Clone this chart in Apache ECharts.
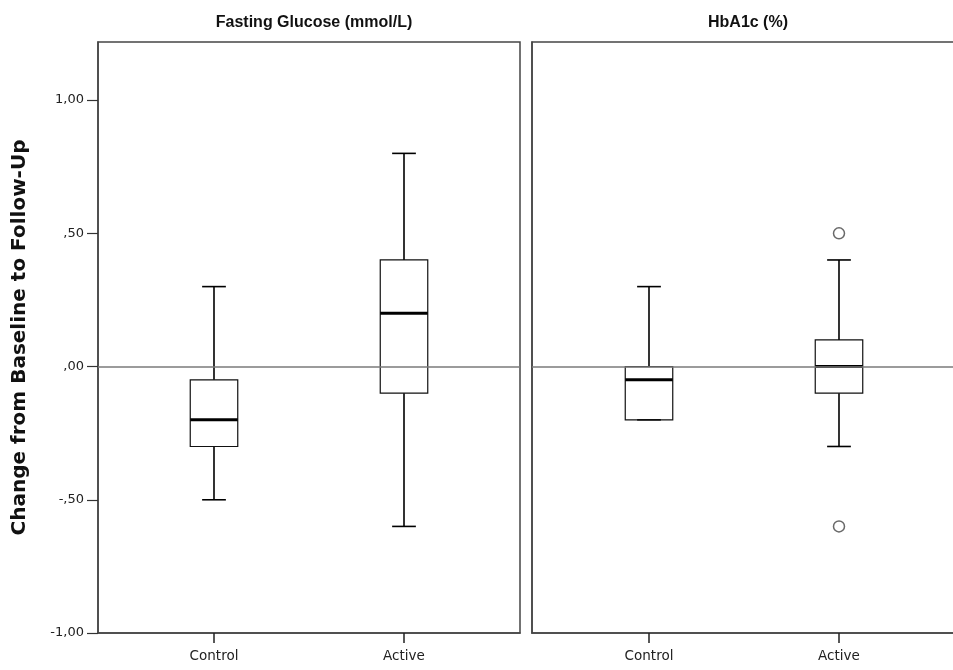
<!DOCTYPE html>
<html>
<head>
<meta charset="utf-8">
<script src="https://cdn.jsdelivr.net/npm/echarts@6/dist/echarts.min.js"></script>
<style>
  html, body { margin: 0; padding: 0; background: #fff; }
  #chart { width: 953px; height: 670px; }
</style>
</head>
<body>
<div id="chart"></div>
<script>
// Groups on the horizontal axis
const categories = ['Control', 'Active'];
// Panel titles
const panelTitles = ['Fasting Glucose (mmol/L)', 'HbA1c (%)'];
// Box summaries per group: [lower whisker, Q1, median, Q3, upper whisker]
const glucoseBoxes = [
  [-0.50, -0.30, -0.20, -0.05, 0.30],
  [-0.60, -0.10, 0.20, 0.40, 0.80]
];
const hba1cBoxes = [
  [-0.20, -0.20, -0.05, 0.00, 0.30],
  [-0.30, -0.10, 0.00, 0.10, 0.40]
];
// Outliers: [group index, value]
const glucoseOutliers = [];
const hba1cOutliers = [[1, 0.50], [1, -0.60]];
// Y tick values and their labels
const yTicks = [-1, -0.5, 0, 0.5, 1];
const yTickLabels = ['-1,00', '-,50', ',00', ',50', '1,00'];

const FONT = '"Liberation Sans", Arial, Helvetica, sans-serif';
const TICK_FONT = '"DejaVu Sans", Verdana, sans-serif';
const BORDER = '#454545';

function boxData(boxes) {
  return boxes.map((b, i) => [i].concat(b));
}

function renderBox(params, api) {
  const x = api.value(0);
  const lo = api.coord([x, api.value(1)]);
  const q1 = api.coord([x, api.value(2)]);
  const md = api.coord([x, api.value(3)]);
  const q3 = api.coord([x, api.value(4)]);
  const hi = api.coord([x, api.value(5)]);
  const w = api.size([0.25, 0])[0];
  const cap = w / 2;
  const cx = lo[0];
  const line = (x1, y1, x2, y2, lw) => ({
    type: 'line',
    shape: { x1, y1, x2, y2 },
    style: { stroke: '#000', lineWidth: lw }
  });
  return {
    type: 'group',
    children: [
      line(cx, hi[1], cx, q3[1], 1.6),
      line(cx, q1[1], cx, lo[1], 1.6),
      line(cx - cap / 2, hi[1], cx + cap / 2, hi[1], 1.6),
      line(cx - cap / 2, lo[1], cx + cap / 2, lo[1], 1.6),
      {
        type: 'rect',
        shape: { x: cx - w / 2, y: q3[1], width: w, height: q1[1] - q3[1] },
        style: { fill: 'rgba(255,255,255,0)', stroke: '#111', lineWidth: 1.2 }
      },
      line(cx - w / 2, md[1], cx + w / 2, md[1], 3)
    ]
  };
}

// Both panels place the groups 190px apart, 116px in from the left edge
function xAxisFor(gridIndex, min, max) {
  return {
    type: 'value',
    gridIndex,
    min,
    max,
    axisLine: { show: true, onZero: false, lineStyle: { color: BORDER, width: 1.5 } },
    axisTick: { show: true, customValues: [0, 1], length: 10, lineStyle: { color: '#222', width: 1.5 } },
    axisLabel: {
      customValues: [0, 1],
      formatter: v => categories[Math.round(v)],
      color: '#222', fontFamily: TICK_FONT, fontSize: 13.5, margin: 16
    },
    splitLine: { show: false }
  };
}

function yAxisFor(gridIndex, withLabels) {
  return {
    type: 'value',
    gridIndex,
    min: -1,
    max: 1.218,
    name: withLabels ? 'Change from Baseline to Follow-Up' : '',
    nameLocation: 'middle',
    nameGap: 68,
    nameRotate: 90,
    nameTextStyle: { fontFamily: TICK_FONT, fontSize: 20, fontWeight: 'bold', color: '#111' },
    axisLine: { show: true, onZero: false, lineStyle: { color: BORDER, width: 1.5 } },
    axisTick: { show: withLabels, customValues: yTicks, length: 11, lineStyle: { color: '#333', width: 1.2 } },
    axisLabel: {
      show: withLabels,
      customValues: yTicks,
      formatter: v => yTickLabels[yTicks.indexOf(v)] ?? '',
      color: '#222', fontFamily: TICK_FONT, fontSize: 13, margin: 14
    },
    splitLine: { show: false }
  };
}

function zeroLine() {
  return {
    silent: true,
    symbol: 'none',
    label: { show: false },
    lineStyle: { color: '#7a7a7a', width: 1.6, type: 'solid' },
    data: [{ yAxis: 0 }]
  };
}

const chart = echarts.init(document.getElementById('chart'), null, { renderer: 'canvas' });
chart.setOption({
  animation: false,
  backgroundColor: '#fff',
  title: [
    { text: panelTitles[0], left: 309, top: 10, textAlign: 'center',
      textStyle: { fontFamily: FONT, fontSize: 16, fontWeight: 'bold', color: '#111' } },
    { text: panelTitles[1], left: 743, top: 10, textAlign: 'center',
      textStyle: { fontFamily: FONT, fontSize: 16, fontWeight: 'bold', color: '#111' } }
  ],
  grid: [
    { left: 98, top: 42, width: 422, height: 591, outerBoundsMode: 'none',
      show: true, borderColor: BORDER, borderWidth: 1.5, backgroundColor: 'transparent' },
    { left: 532, top: 42, width: 430, height: 591, outerBoundsMode: 'none',
      show: true, borderColor: BORDER, borderWidth: 1.5, backgroundColor: 'transparent' }
  ],
  xAxis: [xAxisFor(0, -0.6105, 1.6105), xAxisFor(1, -0.6158, 1.6474)],
  yAxis: [yAxisFor(0, true), yAxisFor(1, false)],
  series: [
    {
      type: 'custom', xAxisIndex: 0, yAxisIndex: 0,
      renderItem: renderBox, data: boxData(glucoseBoxes),
      encode: { x: 0, y: [1, 2, 3, 4, 5] },
      markLine: zeroLine(), z: 2
    },
    {
      type: 'custom', xAxisIndex: 1, yAxisIndex: 1,
      renderItem: renderBox, data: boxData(hba1cBoxes),
      encode: { x: 0, y: [1, 2, 3, 4, 5] },
      markLine: zeroLine(), z: 2
    },
    {
      type: 'scatter', xAxisIndex: 0, yAxisIndex: 0,
      data: glucoseOutliers, symbol: 'circle', symbolSize: 11,
      itemStyle: { color: '#fff', borderColor: '#444', borderWidth: 1.5 }
    },
    {
      type: 'scatter', xAxisIndex: 1, yAxisIndex: 1,
      data: hba1cOutliers, symbol: 'circle', symbolSize: 11,
      itemStyle: { color: '#fff', borderColor: '#444', borderWidth: 1.5 }
    }
  ]
});
</script>
</body>
</html>
